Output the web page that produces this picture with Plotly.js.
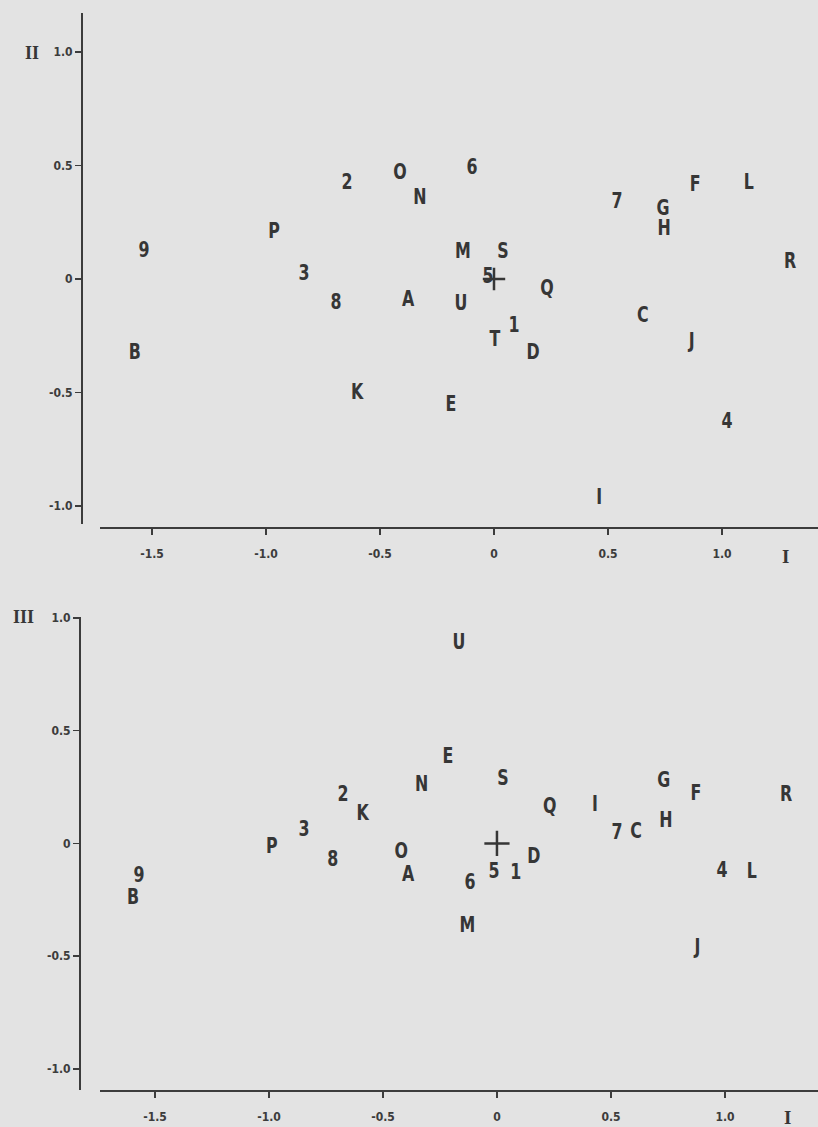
<!DOCTYPE html>
<html>
<head>
<meta charset="utf-8">
<script src="https://cdn.plot.ly/plotly-3.0.1.min.js"></script>
<style>
html,body{margin:0;padding:0;background:#e3e3e3;}
#chart{width:818px;height:1127px;}
/* condense the point labels, as in the original lettering */
#chart .textpoint text{transform-box:fill-box;transform-origin:50% 50%;transform:scaleX(0.8);}
</style>
</head>
<body>
<div id="chart"></div>
<script>
// ---- Panel 1: dimension I (x) vs dimension II (y) ----
const labelsTop = ["9","P","3","2","O","6","N","7","G","H","F","L","R","M","S","5","A","U","Q","1","T","D","8","B","K","C","J","E","4","I"];
const dimI_top  = [-1.535,-0.965,-0.833,-0.645,-0.412,-0.096,-0.325,0.539,0.741,0.746,0.882,1.118,1.298,-0.136,0.039,-0.026,-0.377,-0.145,0.232,0.088,0.004,0.171,-0.693,-1.575,-0.601,0.653,0.868,-0.189,1.022,0.461];
const dimII     = [0.123,0.203,0.018,0.423,0.467,0.485,0.357,0.339,0.308,0.220,0.414,0.423,0.075,0.119,0.119,0.009,-0.093,-0.110,-0.048,-0.207,-0.269,-0.330,-0.106,-0.326,-0.502,-0.163,-0.278,-0.559,-0.630,-0.965];

// ---- Panel 2: dimension I (x) vs dimension III (y) ----
const labelsBottom = ["U","E","N","S","2","K","3","P","8","O","A","6","5","1","D","M","Q","I","7","C","G","H","F","R","4","L","J","9","B"];
const dimI_bottom  = [-0.167,-0.215,-0.330,0.026,-0.675,-0.590,-0.846,-0.987,-0.720,-0.420,-0.390,-0.118,-0.013,0.083,0.162,-0.130,0.232,0.430,0.526,0.610,0.732,0.741,0.873,1.268,0.987,1.118,0.880,-1.570,-1.596];
const dimIII       = [0.885,0.381,0.257,0.283,0.212,0.128,0.058,-0.018,-0.075,-0.040,-0.140,-0.177,-0.128,-0.133,-0.062,-0.370,0.159,0.168,0.044,0.049,0.274,0.097,0.217,0.212,-0.124,-0.128,-0.465,-0.146,-0.245];

// origin marker
const originX = [0];
const originY = [0];

// ticks
const xTickVals = [-1.5,-1.0,-0.5,0,0.5,1.0];
const xTickText = ["-1.5","-1.0","-0.5","0","0.5","1.0"];
const yTickVals = [-1.0,-0.5,0,0.5,1.0];
const yTickText = ["-1.0","-0.5","0","0.5","1.0"];

const W = 818, H = 1127;
const fx = px => px / W;
const fy = py => 1 - py / H;

const INK = "#363636";
const LABEL_FONT = "'Liberation Sans Narrow','DejaVu Sans Condensed','Arial Narrow','Roboto Condensed','Open Sans',sans-serif";
const TICK_FONT = "'Liberation Sans Narrow','DejaVu Sans Condensed','Roboto Condensed',Roboto,sans-serif";
const SERIF = "'Liberation Serif','DejaVu Serif',serif";

const textStyle = {family: LABEL_FONT, size: 22, color: INK, weight: "bold"};

const traces = [
  {type:"scatter", mode:"text", x:dimI_top, y:dimII, text:labelsTop, xaxis:"x", yaxis:"y",
   textposition:"middle center", textfont:textStyle, cliponaxis:false, hoverinfo:"skip"},
  {type:"scatter", mode:"markers", x:originX, y:originY, xaxis:"x", yaxis:"y",
   marker:{symbol:"cross-thin", size:16, color:INK, line:{width:2.5, color:INK}}, cliponaxis:false, hoverinfo:"skip"},
  {type:"scatter", mode:"text", x:dimI_bottom, y:dimIII, text:labelsBottom, xaxis:"x2", yaxis:"y2",
   textposition:"middle center", textfont:textStyle, cliponaxis:false, hoverinfo:"skip"},
  {type:"scatter", mode:"markers", x:originX, y:originY, xaxis:"x2", yaxis:"y2",
   marker:{symbol:"cross-thin", size:18, color:INK, line:{width:2.5, color:INK}}, cliponaxis:false, hoverinfo:"skip"}
];

const tickFont = {family: TICK_FONT, size: 12, color: "#3c3c3c", weight: "bold"};
const axisCommon = {
  showline:true, linewidth:2, linecolor:"#3c3c3c", ticks:"outside", ticklen:6, tickwidth:1.5,
  tickcolor:"#3c3c3c", showgrid:false, zeroline:false, tickfont:tickFont, fixedrange:true
};

const layout = {
  width: W, height: H,
  margin: {l:0, r:0, t:0, b:0, pad:0},
  paper_bgcolor: "#e3e3e3", plot_bgcolor: "rgba(0,0,0,0)",
  showlegend: false,
  xaxis: Object.assign({}, axisCommon, {
    domain:[fx(100), 1], range:[-1.728, 1.421], anchor:"free", position:fy(528),
    tickmode:"array", tickvals:xTickVals, ticktext:xTickText, ticklabelstandoff:9
  }),
  yaxis: Object.assign({}, axisCommon, {
    domain:[fy(524), fy(13)], range:[-1.079, 1.172], anchor:"free", position:fx(82),
    tickmode:"array", tickvals:yTickVals, ticktext:yTickText
  }),
  xaxis2: Object.assign({}, axisCommon, {
    domain:[fx(100), 1], range:[-1.741, 1.408], anchor:"free", position:fy(1091),
    tickmode:"array", tickvals:xTickVals, ticktext:xTickText, ticklabelstandoff:9
  }),
  yaxis2: Object.assign({}, axisCommon, {
    domain:[fy(1090), fy(617)], range:[-1.093, 1.004], anchor:"free", position:fx(80),
    tickmode:"array", tickvals:yTickVals, ticktext:yTickText
  }),
  annotations: [
    {text:"II", xref:"paper", yref:"paper", x:fx(32), y:fy(53), showarrow:false,
     font:{family:SERIF, size:18, color:INK, weight:"bold"}, xanchor:"center", yanchor:"middle"},
    {text:"III", xref:"paper", yref:"paper", x:fx(23), y:fy(617), showarrow:false,
     font:{family:SERIF, size:18, color:INK, weight:"bold"}, xanchor:"center", yanchor:"middle"},
    {text:"I", xref:"paper", yref:"paper", x:fx(785), y:fy(556), showarrow:false,
     font:{family:SERIF, size:19, color:INK, weight:"bold"}, xanchor:"center", yanchor:"middle"},
    {text:"I", xref:"paper", yref:"paper", x:fx(787), y:fy(1117), showarrow:false,
     font:{family:SERIF, size:19, color:INK, weight:"bold"}, xanchor:"center", yanchor:"middle"}
  ]
};

Plotly.newPlot("chart", traces, layout, {displayModeBar:false, staticPlot:true});
</script>
</body>
</html>
